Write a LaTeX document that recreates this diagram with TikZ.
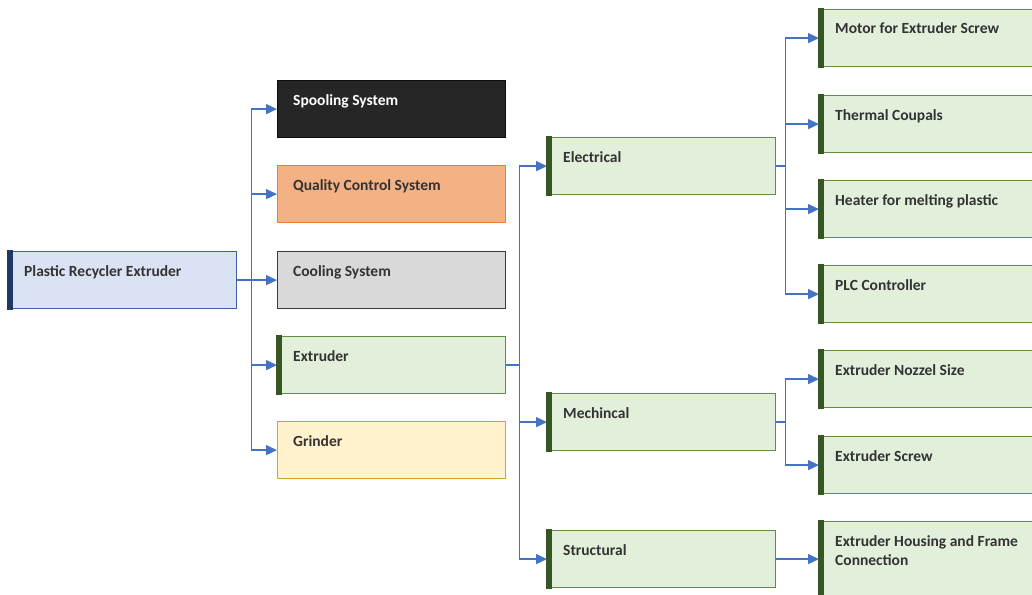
\documentclass[tikz,border=0pt]{standalone}
\usepackage{fontspec}
\setmainfont{Carlito}
\usetikzlibrary{arrows.meta}
\definecolor{conncol}{HTML}{4472C4}
\definecolor{txt}{HTML}{333333}
\definecolor{rootfill}{HTML}{DAE3F3}
\definecolor{rootdraw}{HTML}{3F5F9E}
\definecolor{rootbar}{HTML}{1F3864}
\definecolor{spoolfill}{HTML}{262626}
\definecolor{spooldraw}{HTML}{0D0D0D}
\definecolor{qcsfill}{HTML}{F4B183}
\definecolor{qcsdraw}{HTML}{ED7D31}
\definecolor{coolfill}{HTML}{D9D9D9}
\definecolor{cooldraw}{HTML}{3A3A3A}
\definecolor{grfill}{HTML}{E2EFDA}
\definecolor{grdraw}{HTML}{5E8E3E}
\definecolor{grbar}{HTML}{375623}
\definecolor{grindfill}{HTML}{FFF2CC}
\definecolor{grinddraw}{HTML}{D4A32A}
% [height] name x y fill border bar text
\newcommand{\mkboxshape}[7][57]{%
  \node[box, fill=#5, draw=#6, minimum height=#1pt] (#2) at (#3,#4) {};
  \path[fill=#7] ([xshift=-0.6pt,yshift=0.6pt]#2.north west) rectangle ([xshift=5pt,yshift=-0.6pt]#2.south west);
}
\newcommand{\mkbox}[8][57]{%
  \mkboxshape[#1]{#2}{#3}{#4}{#5}{#6}{#7}
  \node[lbl] (#2-t) at ([xshift=16pt,yshift=-25pt]#2.north west) {#8};
}
\begin{document}
\begin{tikzpicture}[x=1pt,y=-1pt,
  box/.style={rectangle, line width=1.2pt, minimum width=228pt, anchor=north west, inner sep=0pt},
  lbl/.style={anchor=base west, inner sep=0pt, font=\fontsize{15.5}{19}\selectfont\bfseries, text=txt, align=left},
  conn/.style={draw=conncol, line width=1.4pt, -{Triangle[length=11pt,width=10pt]}}]
\useasboundingbox (0,0) rectangle (1032,594);
\clip (0,0) rectangle (1032,594);
% root
\mkbox{root}{8}{251}{rootfill}{rootdraw}{rootbar}{Plastic Recycler Extruder}
% level 1
\mkbox{spool}{277}{80}{spoolfill}{spooldraw}{none}{\textcolor{white}{Spooling System}}
\mkbox{qcs}{277}{165}{qcsfill}{qcsdraw}{none}{Quality Control System}
\mkbox{cool}{277}{251}{coolfill}{cooldraw}{none}{Cooling System}
\mkbox{ext}{277}{336}{grfill}{grdraw}{grbar}{Extruder}
\mkbox{grind}{277}{421}{grindfill}{grinddraw}{none}{Grinder}
% level 2
\mkbox{elec}{547}{137}{grfill}{grdraw}{grbar}{Electrical}
\mkbox{mech}{547}{393}{grfill}{grdraw}{grbar}{Mechincal}
\mkbox{struct}{547}{530}{grfill}{grdraw}{grbar}{Structural}
% level 3
\mkbox{motor}{819}{9}{grfill}{grdraw}{grbar}{Motor for Extruder Screw}
\mkbox{thermal}{819}{95}{grfill}{grdraw}{grbar}{Thermal Coupals}
\mkbox{heater}{819}{180}{grfill}{grdraw}{grbar}{Heater for melting plastic}
\mkbox{plc}{819}{265}{grfill}{grdraw}{grbar}{PLC Controller}
\mkbox{nozzle}{819}{350}{grfill}{grdraw}{grbar}{Extruder Nozzel Size}
\mkbox{screw}{819}{436}{grfill}{grdraw}{grbar}{Extruder Screw}
\mkboxshape[75]{house}{819}{521}{grfill}{grdraw}{grbar}
\node[lbl] (house-t) at ([xshift=16pt,yshift=-44pt]house.north west) {Extruder Housing and Frame\\Connection};
% connectors
\draw[conn] (root.east) -- ++(14,0) |- (spool.west);
\draw[conn] (root.east) -- ++(14,0) |- (qcs.west);
\draw[conn] (root.east) -- (cool.west);
\draw[conn] (root.east) -- ++(14,0) |- (ext.west);
\draw[conn] (root.east) -- ++(14,0) |- (grind.west);
\draw[conn] (ext.east) -- ++(13,0) |- (elec.west);
\draw[conn] (ext.east) -- ++(13,0) |- (mech.west);
\draw[conn] (ext.east) -- ++(13,0) |- (struct.west);
\draw[conn] (elec.east) -- ++(9,0) |- (motor.west);
\draw[conn] (elec.east) -- ++(9,0) |- (thermal.west);
\draw[conn] (elec.east) -- ++(9,0) |- (heater.west);
\draw[conn] (elec.east) -- ++(9,0) |- (plc.west);
\draw[conn] (mech.east) -- ++(9,0) |- (nozzle.west);
\draw[conn] (mech.east) -- ++(9,0) |- (screw.west);
\draw[conn] (struct.east) -- (house.west);
\end{tikzpicture}
\end{document}
